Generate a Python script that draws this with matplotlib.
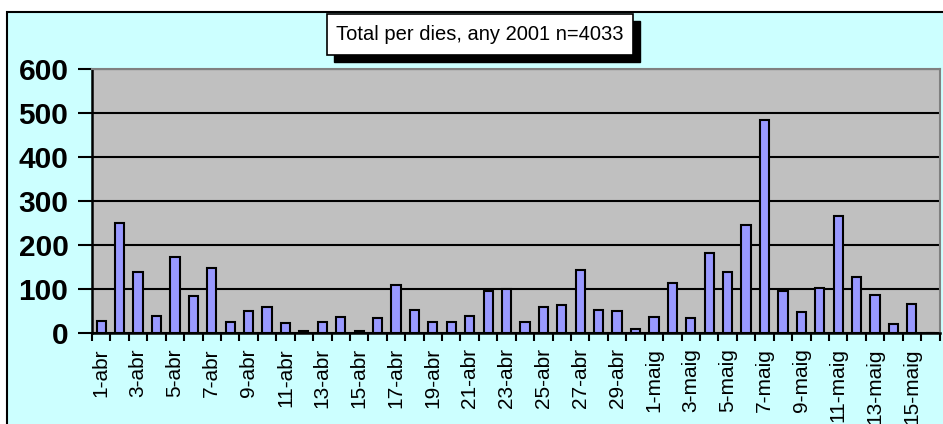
import matplotlib
matplotlib.use('Agg')
import matplotlib.pyplot as plt
from matplotlib.patches import Rectangle
import numpy as np

plt.rcParams['font.family'] = ['Liberation Sans', 'DejaVu Sans']

# daily totals, 1 April - 16 May 2001
days_abr = list(range(1, 31))
days_maig = list(range(1, 17))
categories = ['%d-abr' % d for d in days_abr] + ['%d-maig' % d for d in days_maig]

values = [27, 250, 138, 39, 173, 84, 147, 24, 49, 60,
          22, 5, 25, 37, 5, 35, 110, 52, 25, 25,
          39, 95, 99, 25, 59, 64, 144, 52, 49, 8,
          36, 113, 33, 182, 138, 245, 485, 95, 48, 103,
          267, 128, 87, 20, 65, 0]

title = 'Total per dies, any 2001 n=4033'
yticks = [0, 100, 200, 300, 400, 500, 600]

W, H = 943, 424
fig = plt.figure(figsize=(W / 100, H / 100), dpi=100)
fig.patch.set_facecolor('white')

# cyan chart frame (runs off the right and bottom edge)
frame = Rectangle((7 / W, -0.05), 1.1, (H - 12) / H + 0.05, transform=fig.transFigure,
                  facecolor='#CCFFFF', edgecolor='black', linewidth=1.5, zorder=-10)
fig.patches.append(frame)

ax = fig.add_axes([92 / W, (H - 333) / H, (939.5 - 92) / W, (333 - 69) / H])
ax.set_facecolor('#C0C0C0')

x = np.arange(len(values))
ax.bar(x, values, width=0.5, color='#9999FF', edgecolor='black', linewidth=1.5, zorder=3)

ax.set_xlim(-0.5, len(values) - 0.5)
ax.set_ylim(0, 600)
ax.set_yticks(yticks)
ax.set_yticklabels([str(v) for v in yticks], fontsize=21.5, fontweight='bold')
ax.yaxis.grid(True, color='black', linewidth=1.5, zorder=1)
ax.set_axisbelow(True)
ax.tick_params(axis='y', length=10, width=1.5, pad=7)

# labels on every second day, ticks between every bar
ax.set_xticks(x[::2])
ax.set_xticklabels(categories[::2], rotation=90, fontsize=15)
ax.set_xticks(np.arange(-0.5, len(values)), minor=True)
ax.tick_params(axis='x', which='major', length=0, pad=11)
ax.tick_params(axis='x', which='minor', length=6, width=1.5)

for s in ['left', 'bottom']:
    ax.spines[s].set_color('black')
    ax.spines[s].set_linewidth(1.8)
for s in ['top', 'right']:
    ax.spines[s].set_color('#808080')
    ax.spines[s].set_linewidth(1.5)

# title box with shadow
bx0, by0, bx1, by1 = 327, 14, 633, 55
shadow = Rectangle(((bx0 + 7) / W, (H - by1 - 7) / H), (bx1 - bx0) / W, (by1 - by0) / H,
                   transform=fig.transFigure, facecolor='black', edgecolor='black', zorder=5)
box = Rectangle((bx0 / W, (H - by1) / H), (bx1 - bx0) / W, (by1 - by0) / H,
                transform=fig.transFigure, facecolor='white', edgecolor='black',
                linewidth=1.2, zorder=6)
fig.patches.append(shadow)
fig.patches.append(box)
fig.text((bx0 + bx1) / 2 / W, (H - 34) / H, title, ha='center', va='center',
         fontsize=14.5, zorder=7)

fig.savefig('out.png', dpi=100)
